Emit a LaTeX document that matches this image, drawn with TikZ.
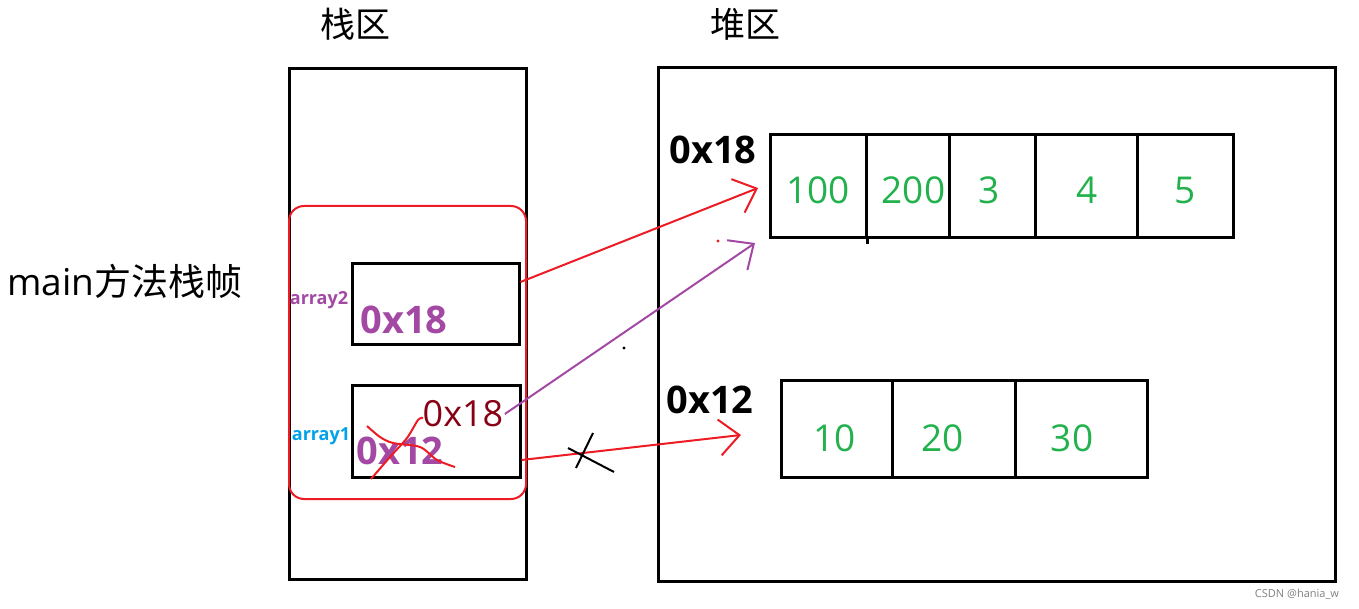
\documentclass[tikz,border=0pt]{standalone}
\usepackage{fontspec}
\setmainfont{Open Sans}
\newfontfamily\cjk{Noto Sans CJK SC}
\usetikzlibrary{arrows.meta}
\definecolor{paintred}{HTML}{ED1C24}
\definecolor{darkred}{HTML}{880015}
\definecolor{paintpurple}{HTML}{A349A4}
\definecolor{paintgreen}{HTML}{22B14C}
\definecolor{paintblue}{HTML}{00A2E8}

\begin{document}
\begin{tikzpicture}[x=1pt,y=-1pt,
    frame/.style={draw,line width=3pt,inner sep=0pt},
    cell/.style={draw,line width=3pt,inner sep=0pt},
    num/.style={text=paintgreen,font=\fontsize{37}{39}\selectfont},
    addr/.style={font=\fontsize{38}{40}\selectfont\bfseries},
    ptr/.style={line width=2pt,-{Straight Barb[length=20pt,width=36pt,line width=2pt]}}]
    \useasboundingbox (0,0) rectangle (1359,609);
    % stack and heap
    \node[frame,minimum width=237pt,minimum height=510pt] (stack) at (407.5,324) {};
    \node[frame,minimum width=677pt,minimum height=513pt] (heap) at (996.5,324.5) {};
    \node[font=\fontsize{35}{37}\selectfont\cjk] (stacktitle) at (355,24) {栈区};
    \node[font=\fontsize{35}{37}\selectfont\cjk] (heaptitle) at (745,24) {堆区};
    \node[anchor=west,font=\fontsize{37}{39}\selectfont] (mainlbl) at (4,281) {main{\cjk 方法栈帧}};
    \node[draw=paintred,line width=2pt,rounded corners=15pt,minimum width=237pt,
      minimum height=293pt] (stackframe) at (407.5,352.5) {};
    % local variables
    \node[frame,minimum width=167pt,minimum height=80pt] (a2box) at (435.5,304) {};
    \node[frame,minimum width=168pt,minimum height=92pt] (a1box) at (436,431) {};
    \node[font=\fontsize{18}{20}\selectfont\bfseries,text=paintpurple] (a2name) at (319,300) {array2};
    \node[font=\fontsize{18}{20}\selectfont\bfseries,text=paintblue] (a1name) at (321,436) {array1};
    \node[addr,text=paintpurple] (a2val) at (404,320) {0x18};
    \node[addr,text=paintpurple] (a1old) at (400,451) {0x12};
    \node[font=\fontsize{36}{38}\selectfont,text=darkred] (a1new) at (463,414) {0x18};
    \draw[paintred,line width=2pt] plot[smooth] coordinates
      {(367,426) (380,437) (393,443) (420,447) (437,460) (455,467)};
    \draw[paintred,line width=2pt] plot[smooth] coordinates
      {(371,479) (390,457) (407,438) (418,420) (423,418)};
    % arrays on the heap
    \foreach \l/\r/\d/\v [count=\i] in {770/866/0/100,866/949/6/200,949/1035/-3/3,1035/1137/1/4,1137/1233/0/5}
    {
    \node[cell,minimum width={(\r-\l)*1pt},minimum height=103pt] (top\i) at ({(\l+\r)/2},186.5) {};
    \node[num] (topv\i) at ([xshift=\d pt,yshift=-4pt]top\i) {\v};
    }
    \draw[line width=3pt] (top1.south east) -- ++(0,5);
    \foreach \l/\r/\d/\v [count=\i] in {781/892/-2/10,892/1015/-11/20,1015/1147/-9/30}
    {
    \node[cell,minimum width={(\r-\l)*1pt},minimum height=97pt] (low\i) at ({(\l+\r)/2},428.5) {};
    \node[num] (lowv\i) at ([xshift=\d pt,yshift=-10pt]low\i) {\v};
    }
    \node[addr] (addr18) at (713,150) {0x18};
    \node[addr] (addr12) at (710,400) {0x12};
    % references
    \coordinate (tip18) at (758,188);
    \coordinate (tip18b) at (755,243);
    \coordinate (tip12) at (741,435);
    \draw[ptr,paintred] ([yshift=22pt]a2box.east) -- (tip18);
    \draw[ptr,paintpurple] ([xshift=-2pt]a1new.east) -- (tip18b);
    \draw[ptr,paintred] ([yshift=-29pt]a1box.east) -- (tip12);
    \draw[line width=2pt] (568,448) -- (614,472) (593,433) -- (576,468);
    \fill (624,348) circle (1.6pt);
    \fill[paintred] (718,241) circle (1.6pt);
    \node[text=gray,font=\fontsize{11}{12}\selectfont] (mark) at (1297,594) {CSDN @hania\_w};
\end{tikzpicture}
\end{document}
